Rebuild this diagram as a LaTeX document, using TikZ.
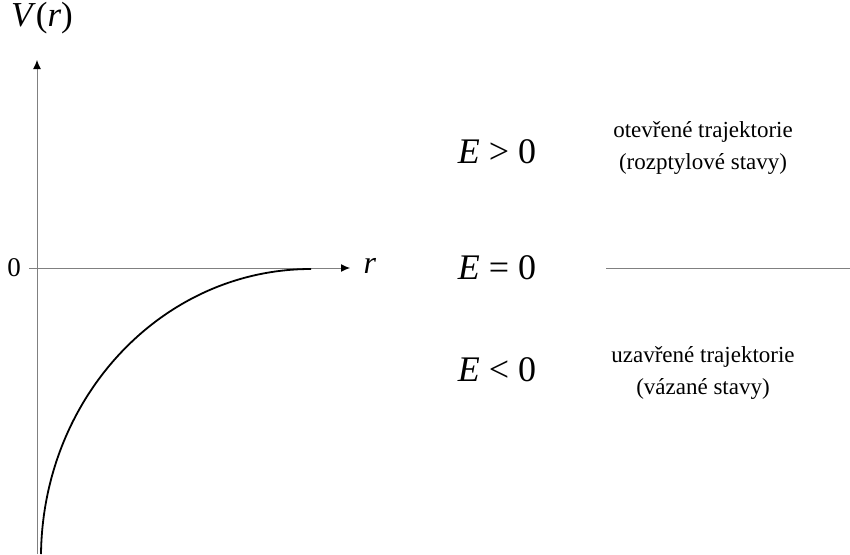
\documentclass[tikz,border=0pt]{standalone}
\usepackage{fontspec}
\setmainfont{Liberation Serif}[ItalicFont={Liberation Serif Italic}]
\usepackage{tikz}
\usepackage{xcolor}
\usetikzlibrary{arrows.meta,positioning,calc}

\begin{document}
\begin{tikzpicture}[x=1pt, y=-1pt]
        \useasboundingbox (0,0) rectangle (850,554);
        % axes
        \coordinate (o) at (37,268);
        \coordinate (ytop) at (37,60);
        \coordinate (ybot) at (37,554);
        \coordinate (xl) at (29,268);
        \coordinate (xr) at (350,268);
        \draw[gray, line width=1pt, -{Latex[length=9pt, width=8pt, black]}] (ybot) -- (ytop);
        \draw[gray, line width=1pt, -{Latex[length=9pt, width=8pt, black]}] (xl) -- (xr);
        \node[font=\fontsize{35}{40}\selectfont] (v) at (42,18) {\textit{V}(\textit{r})};
        \node[font=\fontsize{27}{32}\selectfont] (zero) at (14,268) {0};
        \node[font=\fontsize{32}{36}\selectfont, anchor=west] (r) at (360,266) {\textit{r}};
        % potential
        \coordinate (c0) at (41,554);
        \coordinate (c1) at (311,269);
        \draw[line width=1.8pt] (c0) .. controls (43,396) and (163,269) .. (c1);
        % energies
        \node[font=\fontsize{36}{40}\selectfont] (ep) at (497,152) {\textit{E} > 0};
        \node[font=\fontsize{36}{40}\selectfont] (ez) at (497,268) {\textit{E} = 0};
        \node[font=\fontsize{36}{40}\selectfont] (en) at (497,370) {\textit{E} < 0};
        \node[font=\fontsize{23}{32}\selectfont, align=center] (tp) at (703,148) {otevřené trajektorie\\(rozptylové stavy)};
        \node[font=\fontsize{23}{32}\selectfont, align=center] (tn) at (703,373) {uzavřené trajektorie\\(vázané stavy)};
        \coordinate (l0) at (606,268);
        \coordinate (l1) at (850,268);
        \draw[gray, line width=1pt] (l0) -- (l1);
      \end{tikzpicture}
\end{document}
